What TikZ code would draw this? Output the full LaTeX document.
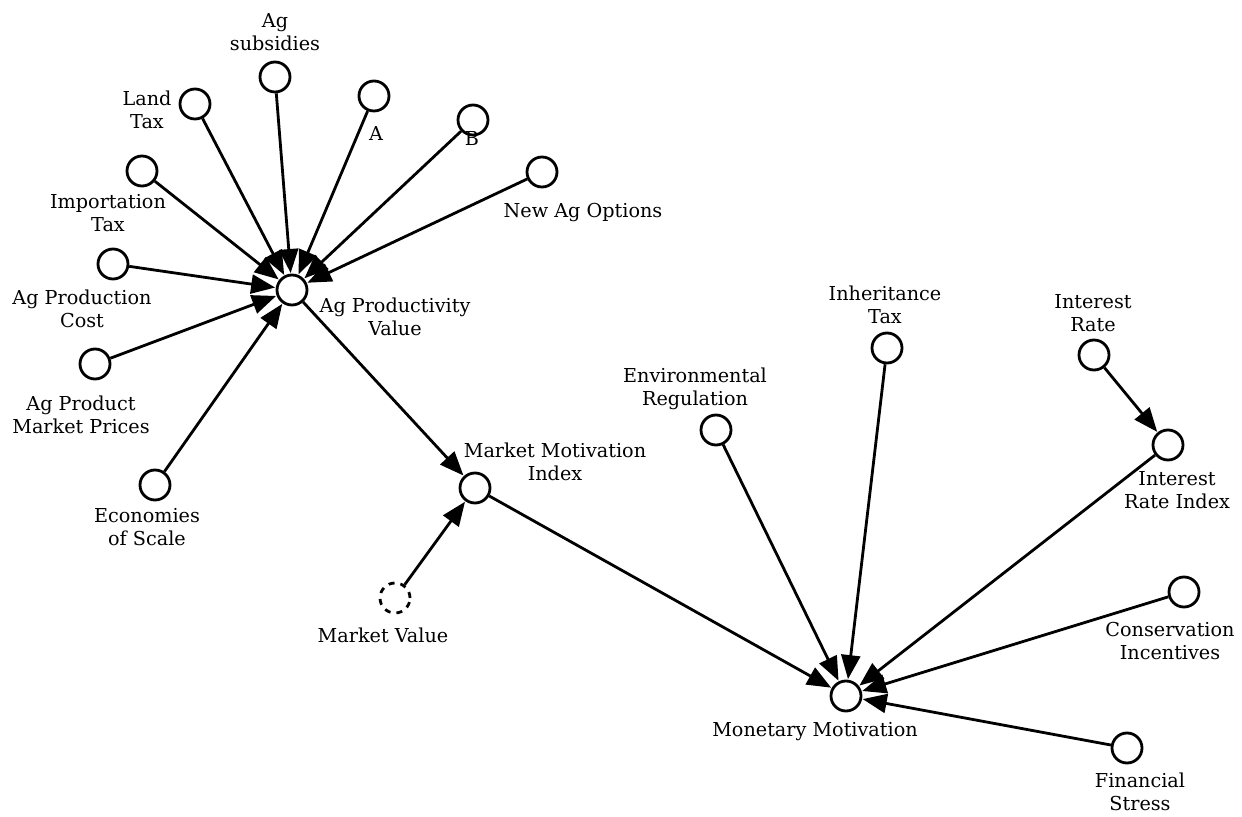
\documentclass[tikz,border=0pt]{standalone}
\usepackage{fontspec}
\setmainfont{DejaVu Serif}
\usetikzlibrary{arrows.meta}

\tikzset{
  var/.style={circle, draw, line width=1.4pt, minimum size=15pt, inner sep=0pt},
  ghost/.style={var, dashed},
  txt/.style={align=center, font=\fontsize{9.6}{11.7}\selectfont, inner sep=0pt},
  link/.style={line width=1.4pt, -{Triangle[length=12pt, width=9.5pt]}, shorten >=0.3pt}
}

\begin{document}
\begin{tikzpicture}[x=0.5pt, y=-0.5pt]
    \useasboundingbox (0,0) rectangle (1242,817);
    % factors of ag productivity
    \node[var] (sub) at (275,77) {};
    \node[var] (land) at (195,104) {};
    \node[var] (a) at (374,96) {};
    \node[var] (b) at (473,120) {};
    \node[var] (opt) at (542,172) {};
    \node[var] (imp) at (142,171) {};
    \node[var] (cost) at (113,264) {};
    \node[var] (price) at (95,364) {};
    \node[var] (scale) at (155,485) {};
    \node[var] (prod) at (292,290) {};
    \node[txt] (sub-l) at (275,32) {Ag\\subsidies};
    \node[txt] (land-l) at (147,110) {Land\\Tax};
    \node[txt] (a-l) at (376,134) {A};
    \node[txt] (b-l) at (472,139) {B};
    \node[txt] (opt-l) at (583,213) {New Ag Options};
    \node[txt] (imp-l) at (108,213) {Importation\\Tax};
    \node[txt] (cost-l) at (82,309) {Ag Production\\Cost};
    \node[txt] (price-l) at (81,415) {Ag Product\\Market Prices};
    \node[txt] (scale-l) at (147,527) {Economies\\of Scale};
    \node[txt] (prod-l) at (395,317) {Ag Productivity\\Value};
    % market side
    \node[var] (mmi) at (475,488) {};
    \node[ghost] (mv) at (395,598) {};
    \node[txt] (mmi-l) at (555,462) {Market Motivation\\Index};
    \node[txt] (mv-l) at (383,635) {Market Value};
    % monetary motivation
    \node[var] (env) at (716,430) {};
    \node[var] (inh) at (887,348) {};
    \node[var] (rate) at (1094,355) {};
    \node[var] (idx) at (1168,445) {};
    \node[var] (cons) at (1184,592) {};
    \node[var] (fin) at (1127,748) {};
    \node[var] (mon) at (846,696) {};
    \node[txt] (env-l) at (695,389) {Environmental\\Regulation};
    \node[txt] (inh-l) at (885,305) {Inheritance\\Tax};
    \node[txt] (rate-l) at (1093,313) {Interest\\Rate};
    \node[txt] (idx-l) at (1177,490) {Interest\\Rate Index};
    \node[txt] (cons-l) at (1170,641) {Conservation\\Incentives};
    \node[txt] (mon-l) at (815,732) {Monetary Motivation};
    \node[txt] (fin-l) at (1140,792) {Financial\\Stress};

    \foreach \src in {sub,land,a,b,opt,imp,cost,price,scale}
      \draw[link] (\src) -- (prod);
    \draw[link] (prod) -- (mmi);
    \draw[link] (mv) -- (mmi);
    \draw[link] (rate) -- (idx);
    \foreach \src in {mmi,env,inh,idx,cons,fin}
      \draw[link] (\src) -- (mon);
\end{tikzpicture}
\end{document}
